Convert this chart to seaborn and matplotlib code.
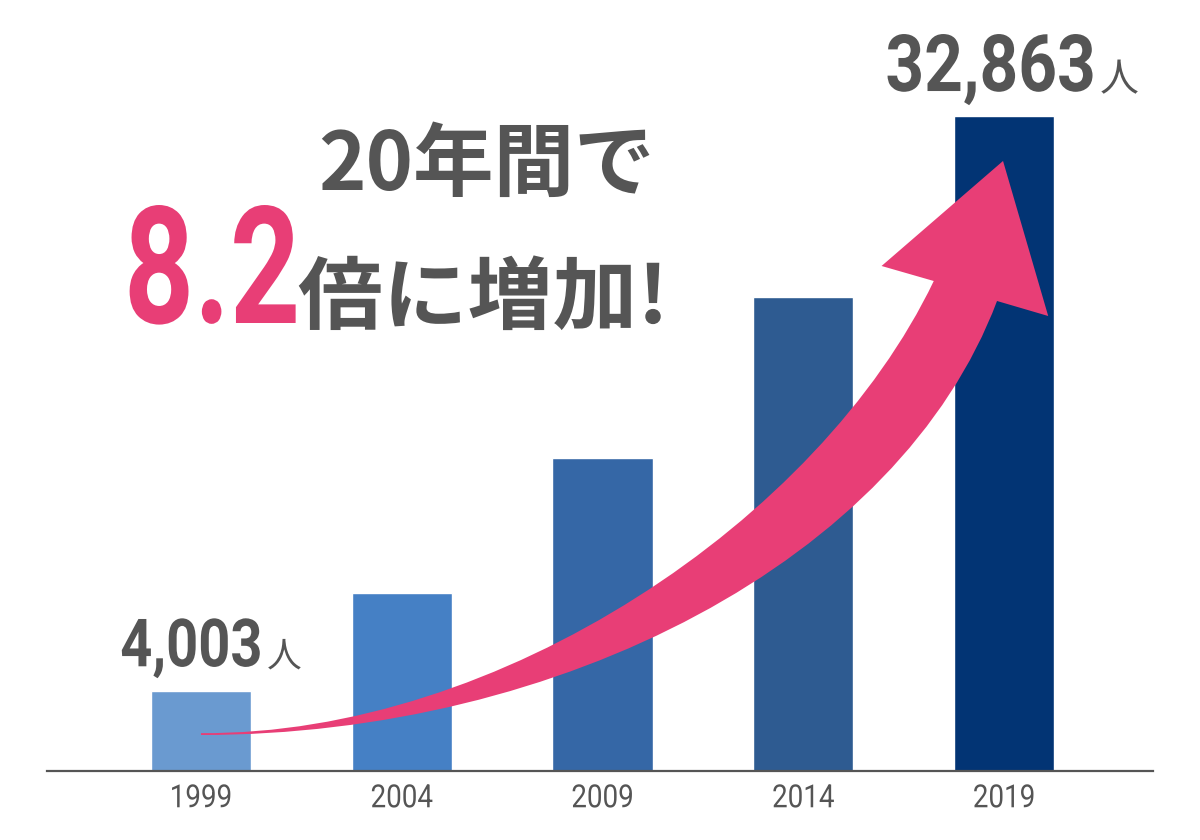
import matplotlib
matplotlib.use("Agg")
import matplotlib.pyplot as plt
from matplotlib.path import Path
from matplotlib.patches import PathPatch
from matplotlib.patheffects import AbstractPathEffect
from matplotlib.transforms import Affine2D
import seaborn as sns
import pandas as pd

# ---- data ----
years = ["1999", "2004", "2009", "2014", "2019"]
values = [4003, 8930, 15700, 23780, 32863]
bar_colors = ["#6a9ad0", "#4580c5", "#3567a6", "#2e5b91", "#023474"]
first_label = "4,003"
last_label = "32,863"
unit = "人"
headline1 = "20年間で"
headline_big = "8.2"
headline2 = "倍に増加!"

PINK = "#e83e76"
GREY = "#555555"


class Condense(AbstractPathEffect):
    """Draw text glyphs narrowed/stretched like a condensed typeface."""

    def __init__(self, width_px=None, cap_px=None, sx=None, anchor="left"):
        super().__init__()
        self.width_px, self.cap_px, self.sx, self.anchor = width_px, cap_px, sx, anchor

    def draw_path(self, renderer, gc, tpath, affine, rgbFace=None):
        ext = tpath.get_extents(affine)
        bx, by = affine.transform((0, 0))
        sx = self.sx if self.sx else 1.0
        if self.width_px:
            sx = self.width_px / max(ext.width, 1e-6)
        sy = 1.0
        if self.cap_px:
            sy = self.cap_px / max(ext.y1 - by, 1e-6)
        ax0 = {"left": ext.x0, "right": ext.x1, "center": 0.5 * (ext.x0 + ext.x1)}[self.anchor]
        aff = affine + Affine2D().translate(-ax0, -by).scale(sx, sy).translate(ax0, by)
        renderer.draw_path(gc, tpath, aff, rgbFace)


sns.set_theme(style="white")
NUMFONT = ["Roboto", "DejaVu Sans"]
CJK = ["Noto Sans CJK JP", "DejaVu Sans"]
plt.rcParams["font.family"] = CJK

df = pd.DataFrame({"year": years, "value": values})

fig = plt.figure(figsize=(12, 8.4), dpi=100)
ax = fig.add_axes([47 / 1200, 69 / 840, 1106 / 1200, 771 / 840])
sns.barplot(data=df, x="year", y="value", hue="year", palette=bar_colors,
            legend=False, width=0.5, saturation=1, ax=ax, zorder=2)
ax.set_xlim(-0.767, 4.742)
ax.set_ylim(0, 38680)
ax.set_xlabel("")
ax.set_ylabel("")
ax.set_yticks([])
for s in ["top", "left", "right"]:
    ax.spines[s].set_visible(False)
ax.spines["bottom"].set_color(GREY)
ax.spines["bottom"].set_linewidth(1.6)
ax.spines["bottom"].set_zorder(5)
ax.tick_params(axis="x", length=0, pad=11)
ax.set_xticks(range(len(years)))
ax.set_xticklabels(years, fontsize=20, color=GREY, family=NUMFONT,
                   path_effects=[Condense(cap_px=23, sx=1.0, anchor="center")])

# ---- curved arrow (decoration) ----
verts = [
    (0.0, 1900),
    (1.49, 1806), (3.08, 12593), (3.65, 24583),   # upper edge
    (3.39, 25336),                                # left barb
    (3.995, 30604),                               # tip
    (4.22, 22827),                                # right barb
    (3.965, 23580),                               # right neck
    (3.48, 10586), (1.79, 1806), (0.0, 1806),     # lower edge
    (0.0, 1900),
]
codes = [Path.MOVETO,
         Path.CURVE4, Path.CURVE4, Path.CURVE4,
         Path.LINETO, Path.LINETO, Path.LINETO, Path.LINETO,
         Path.CURVE4, Path.CURVE4, Path.CURVE4,
         Path.CLOSEPOLY]
ax.add_patch(PathPatch(Path(verts, codes), facecolor=PINK, edgecolor="none", zorder=4))


# ---- value labels ----
def value_label(i, num, size, width_px, cap_px, unit_size, dx_num, dx_unit):
    y = values[i] + 1250
    ax.text(i + dx_num, y, num, ha="right", va="baseline", fontsize=size,
            fontweight="bold", color=GREY, zorder=6, family=NUMFONT,
            path_effects=[Condense(width_px=width_px, cap_px=cap_px, anchor="right")])
    ax.text(i + dx_unit, y, unit, ha="left", va="baseline", fontsize=unit_size,
            color=GREY, family=CJK, zorder=6)


value_label(0, first_label, 38, 138, 48, 25, 0.305, 0.328)
value_label(4, last_label, 46, 205, 57, 28, 0.455, 0.477)

# ---- headline ----
fig.text(655 / 1200, (840 - 190) / 840, headline1, ha="right", va="baseline",
         fontsize=58, fontweight="bold", color=GREY, family=CJK)
fig.text(124 / 1200, (840 - 323) / 840, headline_big, ha="left", va="baseline",
         fontsize=88, fontweight="bold", color=PINK, family=NUMFONT,
         path_effects=[Condense(width_px=166, cap_px=118, anchor="left")])
fig.text(298 / 1200, (840 - 323) / 840, headline2, ha="left", va="baseline",
         fontsize=57, fontweight="bold", color=GREY, family=CJK,
         path_effects=[Condense(width_px=362, anchor="left")])

fig.savefig("out.png", dpi=100, facecolor="white")
